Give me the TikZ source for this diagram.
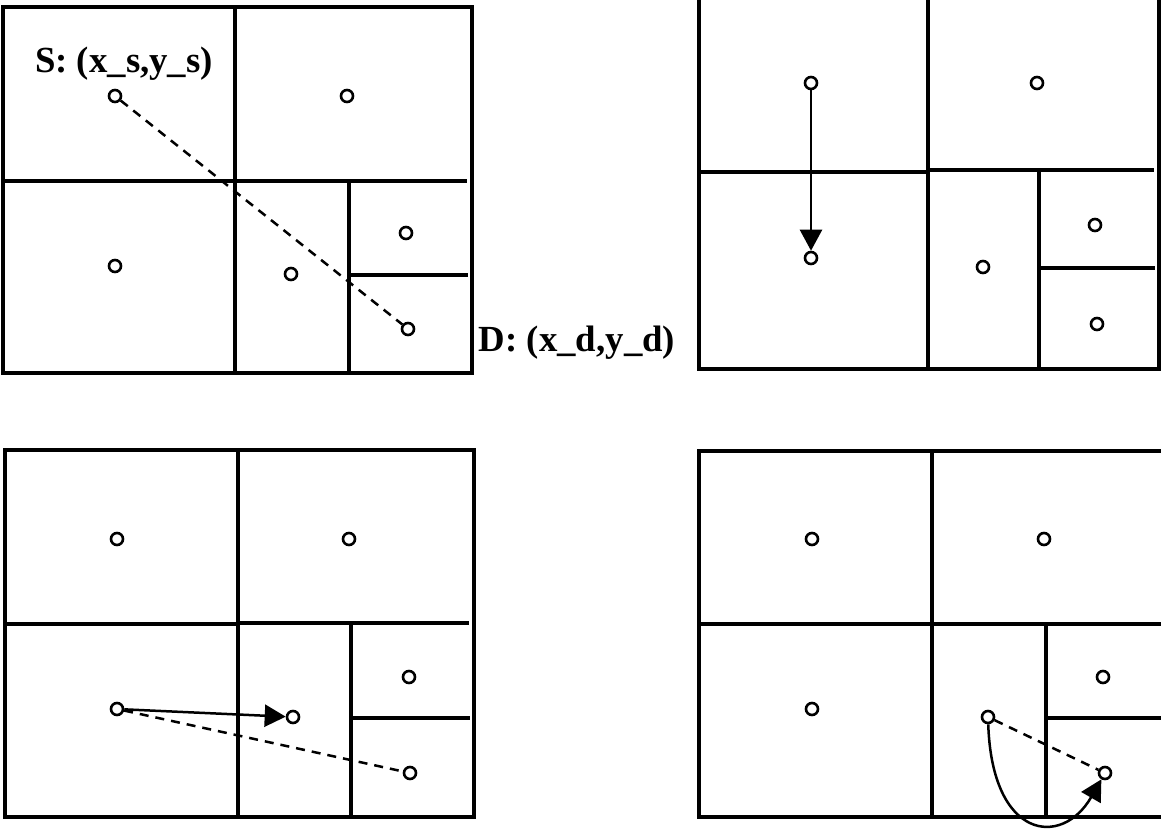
\documentclass[tikz,border=0pt]{standalone}
\usepackage{fontspec}
\setmainfont{Liberation Serif}
\usetikzlibrary{arrows.meta}

\begin{document}
\begin{tikzpicture}[x=0.5pt,y=-0.5pt,
frame/.style={draw=black,line width=1.9pt},
part/.style={draw=black,line width=1.6pt},
dot/.style={circle,draw=black,line width=1.3pt,minimum size=6pt,inner sep=0pt,fill=white},
lbl/.style={font=\bfseries\fontsize{18.4}{22}\selectfont,inner sep=0pt},
link/.style={dashed,line width=1.25pt,dash pattern=on 4.5pt off 3.5pt},
hop/.style={-{Triangle[length=10.5pt,width=11pt]},line width=1.25pt}
]
\useasboundingbox (0,0) rectangle (1161,829);
% top left: straight line from S to D
\draw[frame] (3,7) rectangle (472,373);
\draw[part] (235,7) -- (235,373);
\draw[part] (3,181) -- (467,181);
\draw[part] (349,181) -- (349,373);
\draw[part] (349,275) -- (468,275);
\node[dot] (s1) at (115,96) {};
\node[dot] (s2) at (347,96) {};
\node[dot] (s3) at (115,266) {};
\node[dot] (s4) at (291,274) {};
\node[dot] (s5) at (406,233) {};
\node[dot] (s6) at (408,329) {};
\node[lbl] (src) at (124,64) {S: (x\_s,y\_s)};
\node[lbl] (dst) at (577,343) {D: (x\_d,y\_d)};
\draw[link] (s1) -- (s6);
% top right: first hop
\draw[frame] (699,-4) rectangle (1159,369);
\draw[part] (928,-4) -- (928,369);
\draw[part] (699,172) -- (928,172);
\draw[part] (928,170) -- (1154,170);
\draw[part] (1039,170) -- (1039,369);
\draw[part] (1039,268) -- (1155,268);
\node[dot] (a1) at (811,83) {};
\node[dot] (a2) at (1037,83) {};
\node[dot] (a3) at (811,258) {};
\node[dot] (a4) at (983,267) {};
\node[dot] (a5) at (1095,225) {};
\node[dot] (a6) at (1097,324) {};
\draw[hop] (a1) -- (a3);
% bottom left: second hop
\draw[frame] (5,450) rectangle (474,817);
\draw[part] (238,450) -- (238,817);
\draw[part] (5,624) -- (238,624);
\draw[part] (238,623) -- (469,623);
\draw[part] (351,623) -- (351,817);
\draw[part] (351,718) -- (470,718);
\node[dot] (b1) at (117,539) {};
\node[dot] (b2) at (349,539) {};
\node[dot] (b3) at (117,709) {};
\node[dot] (b4) at (293,717) {};
\node[dot] (b5) at (409,677) {};
\node[dot] (b6) at (410,773) {};
\draw[link] (b3) -- (b6);
\draw[hop] (b3) -- (b4);
% bottom right: last hop
\draw[frame] (699,451) rectangle (1168,817);
\draw[part] (932,451) -- (932,817);
\draw[part] (699,624) -- (1168,624);
\draw[part] (1046,624) -- (1046,817);
\draw[part] (1046,718) -- (1168,718);
\node[dot] (c1) at (812,539) {};
\node[dot] (c2) at (1044,539) {};
\node[dot] (c3) at (812,709) {};
\node[dot] (c4) at (988,717) {};
\node[dot] (c5) at (1103,677) {};
\node[dot] (c6) at (1105,773) {};
\draw[link] (c4) -- (c6);
\draw[hop] (c4) .. controls (992,840) and (1062,848) .. (c6);
\end{tikzpicture}
\end{document}
